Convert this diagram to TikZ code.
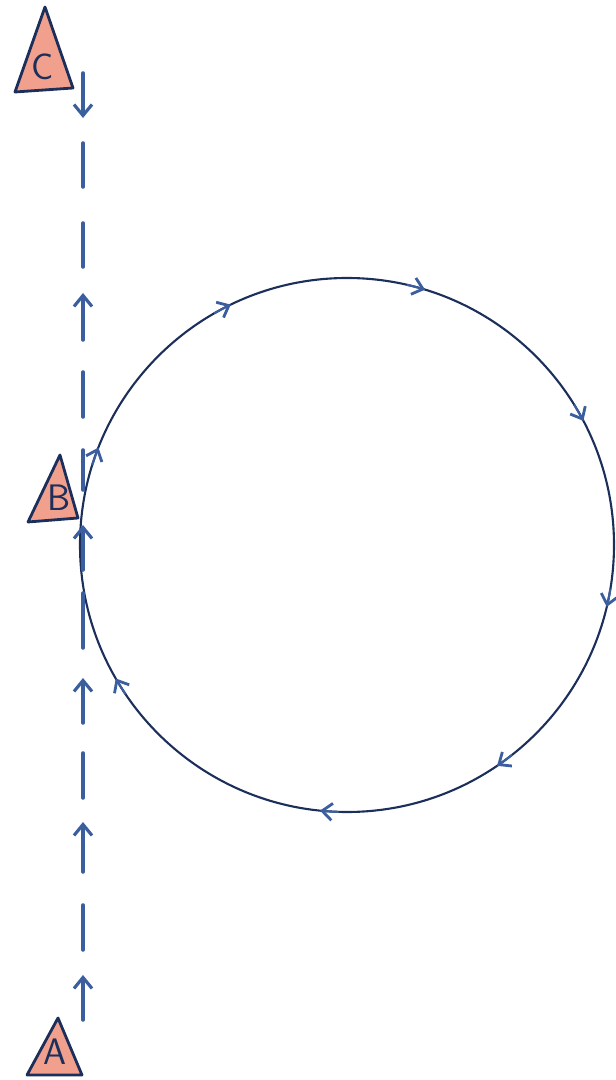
\documentclass[tikz,border=0pt]{standalone}
\usepackage{tikz}
\usetikzlibrary{arrows.meta}
\definecolor{navy}{HTML}{1C2F5A}
\definecolor{penblue}{HTML}{3B5E9E}
\definecolor{salmon}{HTML}{F2A08E}

\begin{document}
\begin{tikzpicture}[
    x=0.02cm, y=0.02cm,
    beacon/.style={draw=navy, fill=salmon, line width=1.6pt, line join=round},
    marker/.style={font=\fontsize{21}{21}\selectfont\sffamily, text=navy, inner sep=0pt},
    track/.style={penblue, line width=2pt, line cap=round},
    trackarrow/.style={track, -{Straight Barb[length=2.2mm, width=3.6mm, line width=1.8pt]}},
    orbit/.style={navy, line width=1.2pt},
    orbitarrow/.style={penblue, line width=1.2pt, -{Straight Barb[length=2mm, width=3.4mm, line width=1.6pt]}}
]
\useasboundingbox (0,0) rectangle (616,1080);

%=== Beacons ===
\draw[beacon] (27,5) -- (58,62) -- (82,5) -- cycle;
\node[marker] (A) at (55,28) {A};
\draw[beacon] (28,558) -- (60,625) -- (78,562) -- cycle;
\node[marker] (B) at (59,582) {B};
\draw[beacon] (15,988) -- (45,1073) -- (73,992) -- cycle;
\node[marker] (C) at (43,1013) {C};

%=== Orbit, run clockwise ===
\coordinate (O) at (347,535);
\draw[orbit] (O) circle[radius=267];
\foreach \a in {158.6, 115.8, 73, 27.7, -13.4, -55.8, -95.8, -150}
    \draw[orbitarrow] (O) ++(\a+4:267) arc[start angle=\a+4, end angle=\a, radius=267];

%=== Track from A up to C ===
\foreach \ya/\yb in {130/175, 282/327, 432/487, 590/630, 663/708, 813/857, 893/937}
    \draw[track] (83,\ya) -- (83,\yb);
\foreach \ya/\yb in {60/105, 208/258, 357/402, 510/555, 740/787}
    \draw[trackarrow] (83,\ya) -- (83,\yb);
\draw[trackarrow] (83,1007) -- (83,962); % turn back at C

\end{tikzpicture}
\end{document}
